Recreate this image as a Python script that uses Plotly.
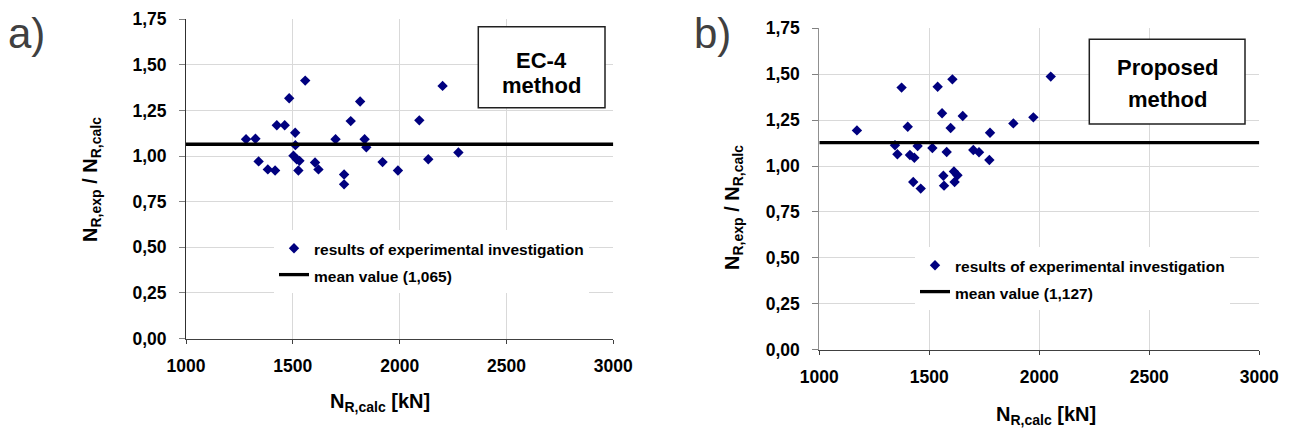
import plotly.graph_objects as go

# ---------------- data ----------------
ec4_x = [1281, 1325, 1340, 1383, 1417, 1425, 1462, 1483, 1511, 1512, 1503, 1518, 1531, 1526, 1558,
         1604, 1620, 1700, 1740, 1740, 1771, 1815, 1836, 1844, 1920, 1992, 2092, 2134, 2201, 2275]
ec4_y = [1.092, 1.095, 0.971, 0.927, 0.921, 1.169, 1.169, 1.317, 1.128, 1.060, 1.002, 0.983, 0.974, 0.921, 1.414,
         0.965, 0.927, 1.092, 0.899, 0.845, 1.192, 1.299, 1.092, 1.048, 0.967, 0.921, 1.196, 0.983, 1.385, 1.020]
ec4_mean = 1.065

prop_x = [1171, 1344, 1355, 1374, 1402, 1412, 1432, 1427, 1447, 1461, 1514, 1538, 1558, 1579, 1564,
          1567, 1597, 1605, 1612, 1628, 1615, 1652, 1700, 1726, 1776, 1773, 1882, 1973, 2052]
prop_y = [1.194, 1.113, 1.064, 1.427, 1.214, 1.060, 1.045, 0.913, 1.109, 0.877, 1.098, 1.432, 1.287, 1.076, 0.947,
          0.893, 1.207, 1.472, 0.970, 0.950, 0.913, 1.272, 1.087, 1.075, 1.181, 1.033, 1.232, 1.265, 1.487]
prop_mean = 1.127

x_range = [1000, 3000]
y_range = [0, 1.75]
x_tickvals = [1000, 1500, 2000, 2500, 3000]
x_ticktext = ["1000", "1500", "2000", "2500", "3000"]
y_tickvals = [0, 0.25, 0.5, 0.75, 1.0, 1.25, 1.5, 1.75]
y_ticktext = ["0,00", "0,25", "0,50", "0,75", "1,00", "1,25", "1,50", "1,75"]

scatter_name = "results of experimental investigation"
ec4_mean_name = "mean value (1,065)"
prop_mean_name = "mean value (1,127)"

# ---------------- layout helpers ----------------
W, H = 1290, 430
FONT = "Arial, Liberation Sans, Helvetica, sans-serif"
def px(x):
    return x / W
def py(y):
    return 1 - y / H

NAVY = "#00007f"

fig = go.Figure()

def leg_text(t):
    return '<span style="font-size:15.5px">' + t + '</span>'

fig.add_trace(go.Scatter(x=ec4_x, y=ec4_y, mode="markers", name=leg_text(scatter_name),
                         marker=dict(symbol="diamond", size=8, color=NAVY),
                         xaxis="x", yaxis="y", legend="legend"))
fig.add_trace(go.Scatter(x=x_range, y=[ec4_mean, ec4_mean], mode="lines", name=leg_text(ec4_mean_name),
                         line=dict(color="black", width=3.3),
                         xaxis="x", yaxis="y", legend="legend"))
fig.add_trace(go.Scatter(x=prop_x, y=prop_y, mode="markers", name=leg_text(scatter_name),
                         marker=dict(symbol="diamond", size=8, color=NAVY),
                         xaxis="x2", yaxis="y2", legend="legend2"))
fig.add_trace(go.Scatter(x=x_range, y=[prop_mean, prop_mean], mode="lines", name=leg_text(prop_mean_name),
                         line=dict(color="black", width=3.3),
                         xaxis="x2", yaxis="y2", legend="legend2"))

def xaxis_cfg(dom, anchor, linecolor):
    return dict(domain=dom, anchor=anchor, range=x_range, tickmode="array", automargin=False,
                tickvals=x_tickvals, ticktext=x_ticktext, showgrid=True, gridcolor="#d9d9d9",
                gridwidth=1, zeroline=False, showline=True, linecolor=linecolor, linewidth=1,
                ticks="outside", ticklen=4, tickcolor=linecolor, ticklabelstandoff=7,
                tickfont=dict(family=FONT, size=17.5, color="black", weight="bold"), fixedrange=True)

def yaxis_cfg(dom, anchor, linecolor):
    return dict(domain=dom, anchor=anchor, range=y_range, tickmode="array", automargin=False,
                tickvals=y_tickvals, ticktext=y_ticktext, showgrid=True, gridcolor="#d9d9d9",
                gridwidth=1, zeroline=False, showline=True, linecolor=linecolor, linewidth=1,
                ticks="outside", ticklen=6, tickcolor="#808080", ticklabelstandoff=9,
                tickfont=dict(family=FONT, size=17.5, color="black", weight="bold"), fixedrange=True)

fig.update_layout(
    template="none",
    width=W, height=H, margin=dict(l=0, r=0, t=0, b=0, autoexpand=False),
    paper_bgcolor="white", plot_bgcolor="white",
    showlegend=True,
    xaxis=xaxis_cfg([px(186), px(613.3)], "y", "#404040"),
    yaxis=yaxis_cfg([py(338.5), py(19.3)], "x", "#303030"),
    xaxis2=xaxis_cfg([px(819.3), px(1259.3)], "y2", "#404040"),
    yaxis2=yaxis_cfg([py(349.6), py(28.3)], "x2", "#909090"),
    legend=dict(x=px(274), y=py(230), xanchor="left", yanchor="top", bgcolor="white",
                borderwidth=0, font=dict(family=FONT, size=18, color="black", weight="bold"),
                itemsizing="trace", tracegroupgap=0),
    legend2=dict(x=px(915), y=py(247), xanchor="left", yanchor="top", bgcolor="white",
                 borderwidth=0, font=dict(family=FONT, size=18, color="black", weight="bold"),
                 itemsizing="trace", tracegroupgap=0),
)

ann = []
# panel letters
ann.append(dict(text="a)", x=px(6), y=py(33), xref="paper", yref="paper", xanchor="left", yanchor="middle",
                showarrow=False, font=dict(family=FONT, size=42, color="#404040")))
ann.append(dict(text="b)", x=px(692), y=py(34), xref="paper", yref="paper", xanchor="left", yanchor="middle",
                showarrow=False, font=dict(family=FONT, size=42, color="#404040")))
# axis titles
tfont = dict(family=FONT, size=20, color="black", weight="bold")
ann.append(dict(text="N<sub>R,calc</sub> [kN]", x=px(380), y=py(402), xref="paper", yref="paper",
                xanchor="center", yanchor="middle", showarrow=False, font=tfont))
ann.append(dict(text="N<sub>R,calc</sub> [kN]", x=px(1046), y=py(415), xref="paper", yref="paper",
                xanchor="center", yanchor="middle", showarrow=False, font=tfont))
ann.append(dict(text="N<sub>R,exp</sub> / N<sub>R,calc</sub>", x=px(91), y=py(180), xref="paper", yref="paper",
                xanchor="center", yanchor="middle", textangle=-90, showarrow=False, font=tfont))
ann.append(dict(text="N<sub>R,exp</sub> / N<sub>R,calc</sub>", x=px(733), y=py(208), xref="paper", yref="paper",
                xanchor="center", yanchor="middle", textangle=-90, showarrow=False, font=tfont))
# method boxes text
bfont = dict(family=FONT, size=22, color="black", weight="bold")
ann.append(dict(text="EC-4", x=px(541.5), y=py(60), xref="paper", yref="paper", xanchor="center",
                yanchor="middle", showarrow=False, font=bfont))
ann.append(dict(text="method", x=px(541.5), y=py(86), xref="paper", yref="paper", xanchor="center",
                yanchor="middle", showarrow=False, font=bfont))
ann.append(dict(text="Proposed", x=px(1167), y=py(67), xref="paper", yref="paper", xanchor="center",
                yanchor="middle", showarrow=False, font=bfont))
ann.append(dict(text="method", x=px(1167), y=py(99), xref="paper", yref="paper", xanchor="center",
                yanchor="middle", showarrow=False, font=bfont))
fig.update_layout(annotations=ann)

shapes = [
    dict(type="rect", xref="paper", yref="paper", x0=px(478.3), x1=px(605), y0=py(107.7), y1=py(26.7),
         line=dict(color="#202020", width=1.5), fillcolor="white", layer="above"),
    dict(type="rect", xref="paper", yref="paper", x0=px(1089.3), x1=px(1245), y0=py(124), y1=py(39.3),
         line=dict(color="#202020", width=1.5), fillcolor="white", layer="above"),
]
fig.update_layout(shapes=shapes)

fig.write_html("out.html",
               config={"displayModeBar": False},
               post_script="document.body.style.margin='0';document.body.style.padding='0';"
                           "document.body.style.overflow='hidden';")
